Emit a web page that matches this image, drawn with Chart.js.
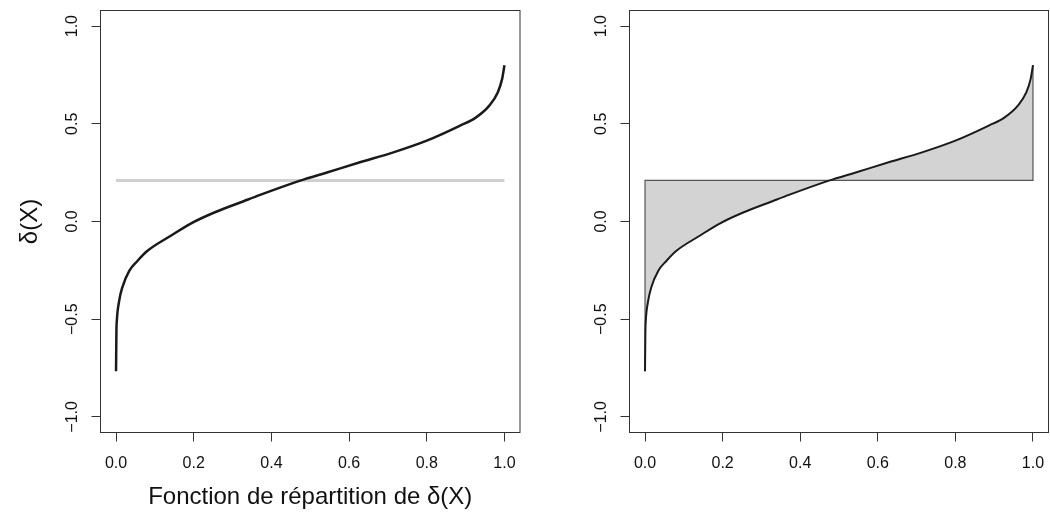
<!DOCTYPE html>
<html>
<head>
<meta charset="utf-8">
<script src="https://cdn.jsdelivr.net/npm/chart.js@4.4.0/dist/chart.umd.min.js"></script>
<style>
body{margin:0;background:#fff;}
#wrap{position:relative;width:1050px;height:512px;}
canvas{position:absolute;top:0;}
#left{left:0;}
#right{left:525px;}
</style>
</head>
<body>
<div id="wrap">
<canvas id="left" width="525" height="512"></canvas>
<canvas id="right" width="525" height="512"></canvas>
</div>
<script>
// fonction de repartition (x) et quantiles de delta(X) (y)
const cdfValues   = [0, 0.001, 0.002, 0.008, 0.016, 0.034, 0.055, 0.081, 0.141, 0.19, 0.253, 0.33, 0.371, 0.474, 0.543, 0.628, 0.714, 0.80, 0.886, 0.927, 0.961, 0.983, 0.994, 1];
const deltaValues = [-0.766, -0.56, -0.509, -0.407, -0.338, -0.253, -0.202, -0.15, -0.073, -0.013, 0.046, 0.105, 0.136, 0.209, 0.251, 0.303, 0.354, 0.414, 0.491, 0.533, 0.593, 0.662, 0.73, 0.8];
const meanDelta = 0.21;

const xTicks = [0, 0.2, 0.4, 0.6, 0.8, 1];
const yTicks = [-1, -0.5, 0, 0.5, 1];
const xLimits = [-0.04, 1.04];
const yLimits = [-1.08, 1.08];

const xTitle = "Fonction de répartition de δ(X)";
const yTitle = "δ(X)";

Chart.defaults.font.family = "'Liberation Sans', Arial, sans-serif";
Chart.defaults.color = "#111";

//turns the two arrays into points
function toPoints(xs, ys){
    let pts = [];
    for(let i=0; i<xs.length; i++){
        pts.push({x: xs[i], y: ys[i]});
    }
    return pts;
}

function fmt(v){
    return (v < 0 ? "\u2212" : "") + Math.abs(v).toFixed(1);
}

//draws the R-like box around the plot region
const boxPlugin = {
    id: "box",
    afterDraw(chart){
        const a = chart.chartArea;
        const ctx = chart.ctx;
        ctx.save();
        ctx.strokeStyle = "#333";
        ctx.lineWidth = 1;
        ctx.strokeRect(a.left, a.top, a.right - a.left, a.bottom - a.top);
        ctx.restore();
    }
};

function makeChart(id, datasets, box, withTitles){
    const ctx = document.getElementById(id).getContext("2d");
    return new Chart(ctx, {
        type: "line",
        data: {datasets},
        options: {
            responsive: false,
            animation: false,
            events: [],
            layout: {padding: {top: box.top, right: 525 - box.right, left: 0, bottom: 0}},
            elements: {point: {radius: 0}},
            plugins: {
                legend: {display: false},
                tooltip: {enabled: false},
                filler: {drawTime: "beforeDatasetsDraw"}
            },
            scales: {
                x: {
                    type: "linear",
                    min: xLimits[0],
                    max: xLimits[1],
                    afterBuildTicks: s => { s.ticks = xTicks.map(v => ({value: v})); },
                    afterFit: s => { s.height = 512 - box.bottom; s.paddingLeft = 0; s.paddingRight = 0; },
                    ticks: {callback: v => fmt(v), font: {size: 16}, padding: 12, maxRotation: 0, autoSkip: false},
                    grid: {drawOnChartArea: false, drawTicks: true, tickLength: 9, color: "#333"},
                    border: {display: false},
                    title: {display: withTitles, text: xTitle, font: {size: 24}, padding: {top: 0, bottom: 0}}
                },
                y: {
                    type: "linear",
                    min: yLimits[0],
                    max: yLimits[1],
                    afterBuildTicks: s => { s.ticks = yTicks.map(v => ({value: v})); },
                    afterFit: s => { s.width = box.left; s.paddingTop = 0; s.paddingBottom = 0; },
                    ticks: {callback: v => fmt(v), font: {size: 16}, padding: 3, minRotation: 90, maxRotation: 90, crossAlign: "center", autoSkip: false},
                    grid: {drawOnChartArea: false, drawTicks: true, tickLength: 9, color: "#333"},
                    border: {display: false},
                    title: {display: withTitles, text: yTitle, font: {size: 24}, padding: {top: 16, bottom: 0}}
                }
            }
        },
        plugins: [boxPlugin]
    });
}

const curve = toPoints(cdfValues, deltaValues);
const last = cdfValues.length - 1;

// left: quantile curve and the mean as a grey line
makeChart("left", [
    {data: curve, borderColor: "#1a1a1a", borderWidth: 2.5, cubicInterpolationMode: "monotone", fill: false, order: 1},
    {data: toPoints([cdfValues[0], cdfValues[last]], [meanDelta, meanDelta]), borderColor: "#cfcfcf", borderWidth: 3, fill: false, order: 2}
], {left: 100.5, right: 520, top: 10.5, bottom: 432.5}, true);

// right: area between the curve and the mean
makeChart("right", [
    {data: curve, borderColor: "#1a1a1a", borderWidth: 2, cubicInterpolationMode: "monotone", fill: {value: meanDelta}, backgroundColor: "#d3d3d3", order: 1},
    {data: toPoints([cdfValues[0], cdfValues[0], cdfValues[last], cdfValues[last]], [deltaValues[0], meanDelta, meanDelta, deltaValues[last]]), borderColor: "#555", borderWidth: 1.2, fill: false, order: 2}
], {left: 104.5, right: 523.5, top: 10.5, bottom: 432.5}, false);
</script>
</body>
</html>
